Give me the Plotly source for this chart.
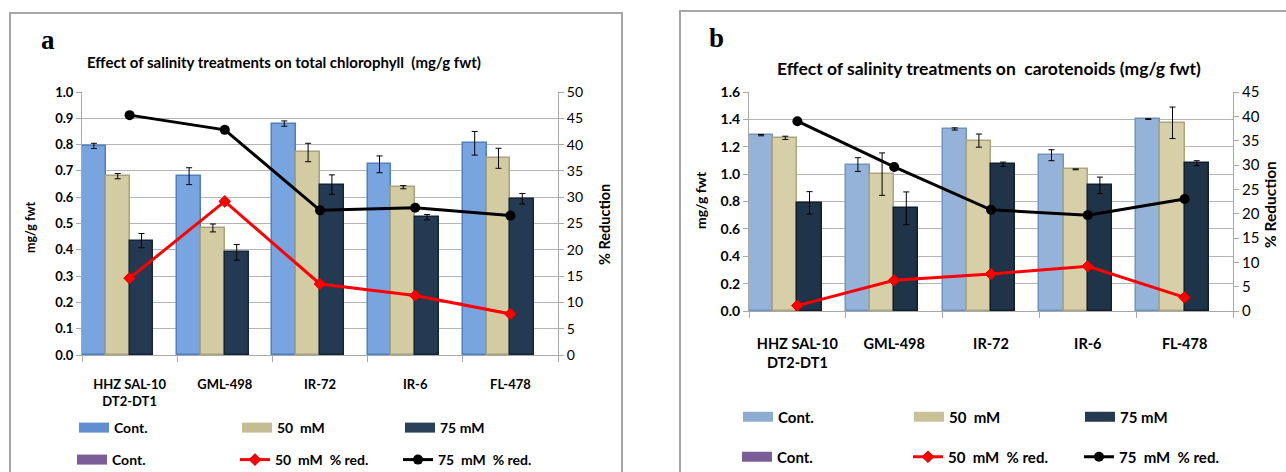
import plotly.graph_objects as go

W, H = 1286, 472

categories_a = ["HHZ SAL-10<br>DT2-DT1", "GML-498", "IR-72", "IR-6", "FL-478"]
categories_b = ["HHZ SAL-10<br>DT2-DT1", "GML-498", "IR-72", "IR-6", "FL-478"]

# Panel a: total chlorophyll (mg/g fwt)
chl_cont = [0.795, 0.680, 0.880, 0.725, 0.805]
chl_cont_err = [0.010, 0.032, 0.010, 0.032, 0.045]
chl_50 = [0.680, 0.483, 0.770, 0.638, 0.748]
chl_50_err = [0.010, 0.015, 0.035, 0.006, 0.038]
chl_75 = [0.435, 0.390, 0.648, 0.524, 0.594]
chl_75_err = [0.027, 0.030, 0.037, 0.010, 0.020]
chl_red50 = [14.6, 29.2, 13.5, 11.3, 7.8]
chl_red75 = [45.6, 42.8, 27.5, 28.0, 26.5]

# Panel b: carotenoids (mg/g fwt)
car_cont = [1.285, 1.070, 1.330, 1.138, 1.402]
car_cont_err = [0.005, 0.050, 0.008, 0.040, 0.003]
car_50 = [1.265, 1.000, 1.245, 1.035, 1.375]
car_50_err = [0.012, 0.155, 0.048, 0.003, 0.115]
car_75 = [0.790, 0.750, 1.072, 0.918, 1.080]
car_75_err = [0.082, 0.120, 0.016, 0.060, 0.018]
car_red50 = [1.1, 6.3, 7.6, 9.2, 2.8]
car_red75 = [39.0, 29.6, 20.8, 19.7, 23.0]

FONT = "Lato, Open Sans, Liberation Sans, sans-serif"


def px_x(p):
    return p / W


def px_y(p):
    return 1 - p / H


fig = go.Figure()


def swatch(name, color, xa, ya, lg):
    # legend-only entry drawn as a wide block, like the reference's legend keys
    fig.add_trace(go.Scatter(x=[None], y=[None], name=name, xaxis=xa, yaxis=ya,
                             mode="lines", line=dict(color=color, width=10),
                             legend=lg, hoverinfo="skip"))


def add_panel(cats, cont, cont_e, v50, v50_e, v75, v75_e, r50, r75,
              xa, ya, ya2, lg1, lg2, colors):
    c_cont, c_50, c_75 = colors
    err = dict(type="data", thickness=1, width=3, color="black")
    fig.add_trace(go.Bar(x=cats, y=cont, name="Cont.", xaxis=xa, yaxis=ya,
                         marker=dict(color=c_cont[0], line=dict(color=c_cont[1], width=1.5)),
                         error_y=dict(array=cont_e, **err), showlegend=False, offsetgroup="1"))
    fig.add_trace(go.Bar(x=cats, y=v50, name="50  mM", xaxis=xa, yaxis=ya,
                         marker=dict(color=c_50[0], line=dict(color=c_50[1], width=1.5)),
                         error_y=dict(array=v50_e, **err), showlegend=False, offsetgroup="2"))
    fig.add_trace(go.Bar(x=cats, y=v75, name="75 mM", xaxis=xa, yaxis=ya,
                         marker=dict(color=c_75[0], line=dict(color=c_75[1], width=1.5)),
                         error_y=dict(array=v75_e, **err), showlegend=False, offsetgroup="3"))
    fig.add_trace(go.Bar(x=cats, y=[None] * len(cats), name="Cont.", xaxis=xa, yaxis=ya,
                         marker=dict(color="#7b5e98"), showlegend=False, offsetgroup="4"))
    swatch("Cont.", c_cont[2], xa, ya, lg1)
    swatch("50  mM", c_50[2], xa, ya, lg1)
    swatch("75 mM", c_75[2], xa, ya, lg1)
    swatch("Cont.", "#7b5e98", xa, ya, lg2)
    fig.add_trace(go.Scatter(x=cats, y=r50, name="50  mM  % red.", xaxis=xa, yaxis=ya2,
                             mode="lines+markers",
                             line=dict(color="#ff0000", width=3),
                             marker=dict(symbol="diamond", size=9, color="#ff0000",
                                         line=dict(color="#d00000", width=1)),
                             legend=lg2))
    fig.add_trace(go.Scatter(x=cats, y=r75, name="75  mM  % red.", xaxis=xa, yaxis=ya2,
                             mode="lines+markers",
                             line=dict(color="#000000", width=3),
                             marker=dict(symbol="circle", size=10, color="#000000"),
                             legend=lg2))


add_panel(categories_a, chl_cont, chl_cont_err, chl_50, chl_50_err, chl_75, chl_75_err,
          chl_red50, chl_red75, "x", "y", "y2", "legend", "legend2",
          (("#78a5e0", "#4f7fc0", "#5f8fcf"), ("#d3cba2", "#aaa27a", "#c4bc92"),
           ("#233a52", "#162536", "#2a4159")))
add_panel(categories_b, car_cont, car_cont_err, car_50, car_50_err, car_75, car_75_err,
          car_red50, car_red75, "x2", "y3", "y4", "legend3", "legend4",
          (("#95b3d9", "#7093c0", "#8eacd2"), ("#d6cfa8", "#aca57e", "#c9c299"),
           ("#1f3349", "#121f2e", "#253a50")))

grid = "#b4b4b4"
axis_line = "#a8a8a8"


def xfmt(size, standoff):
    return dict(showgrid=False, showline=True, linecolor=axis_line, linewidth=1,
                ticks="outside", tickson="boundaries", ticklen=6, tickcolor=axis_line,
                tickfont=dict(family=FONT, size=size, color="black", weight="bold"),
                ticklabelstandoff=standoff, fixedrange=True)


def yfmt(size, bold):
    f = dict(family=FONT, size=size, color="black")
    if bold:
        f["weight"] = "bold"
    return dict(showline=True, linecolor=axis_line, ticks="outside", ticklen=5,
                tickcolor=axis_line, tickfont=f, zeroline=False, fixedrange=True)


fig.update_layout(
    width=W, height=H,
    margin=dict(l=0, r=0, t=0, b=0, autoexpand=False),
    paper_bgcolor="white", plot_bgcolor="white",
    barmode="group", bargap=0, bargroupgap=0,
    xaxis=dict(domain=[px_x(82), px_x(558)], anchor="y", **xfmt(13, 17)),
    yaxis=dict(domain=[px_y(355), px_y(92)], range=[0, 1.0], dtick=0.1, tickformat=".1f",
               showgrid=True, gridcolor=grid, gridwidth=1, anchor="x", **yfmt(13, True)),
    yaxis2=dict(overlaying="y", side="right", anchor="x", range=[0, 50], dtick=5,
                showgrid=False, **yfmt(14, False)),
    xaxis2=dict(domain=[px_x(749), px_x(1233)], anchor="y3", **xfmt(14.5, 20)),
    yaxis3=dict(domain=[px_y(311), px_y(92)], range=[0, 1.6], dtick=0.2, tickformat=".1f",
                showgrid=True, gridcolor=grid, gridwidth=1, anchor="x2", **yfmt(14, True)),
    yaxis4=dict(overlaying="y3", side="right", anchor="x2", range=[0, 45], dtick=5,
                showgrid=False, **yfmt(15, False)),
)

leg_common = dict(orientation="h", entrywidthmode="pixels",
                  bgcolor="rgba(0,0,0,0)", xanchor="left", yanchor="middle",
                  itemwidth=30, tracegroupgap=0, traceorder="normal")
leg_a = dict(entrywidth=118, font=dict(family=FONT, size=14, color="black", weight="bold"), **leg_common)
leg_b = dict(entrywidth=126, font=dict(family=FONT, size=15, color="black", weight="bold"), **leg_common)
fig.update_layout(
    legend=dict(x=px_x(74), y=px_y(428), **leg_a),
    legend2=dict(x=px_x(72), y=px_y(460), **leg_a),
    legend3=dict(x=px_x(738), y=px_y(417), **leg_b),
    legend4=dict(x=px_x(737), y=px_y(457), **leg_b),
)

# Panel frames
frame = dict(type="rect", xref="paper", yref="paper",
             line=dict(color="#a6a6a6", width=2), fillcolor="rgba(0,0,0,0)", layer="below")
fig.add_shape(x0=px_x(10), x1=px_x(622), y0=px_y(480), y1=px_y(13), **frame)
fig.add_shape(x0=px_x(680), x1=px_x(1295), y0=px_y(480), y1=px_y(11), **frame)

serif = "Liberation Serif, Times New Roman, serif"
ann = [
    dict(text="a", x=px_x(48), y=px_y(40), font=dict(family=serif, size=27, color="black", weight="bold")),
    dict(text="b", x=px_x(716), y=px_y(38), font=dict(family=serif, size=27, color="black", weight="bold")),
    dict(text="Effect of salinity treatments on total chlorophyll  (mg/g fwt)",
         x=px_x(284), y=px_y(62), font=dict(family=FONT, size=15, color="black", weight="bold")),
    dict(text="Effect of salinity treatments on  carotenoids (mg/g fwt)",
         x=px_x(989), y=px_y(68), font=dict(family=FONT, size=17.5, color="black", weight="bold")),
    dict(text="mg/g fwt", x=px_x(30), y=px_y(228), textangle=-90,
         font=dict(family=FONT, size=12.5, color="black", weight="bold")),
    dict(text="% Reduction", x=px_x(605), y=px_y(225), textangle=-90,
         font=dict(family=FONT, size=14.5, color="black", weight="bold")),
    dict(text="mg/g fwt", x=px_x(700), y=px_y(200), textangle=-90,
         font=dict(family=FONT, size=14, color="black", weight="bold")),
    dict(text="% Reduction", x=px_x(1270), y=px_y(205), textangle=-90,
         font=dict(family=FONT, size=15.5, color="black", weight="bold")),
]
for a in ann:
    fig.add_annotation(xref="paper", yref="paper", showarrow=False,
                       xanchor="center", yanchor="middle", **a)

fig.write_html("out.html", config={"displayModeBar": False},
               post_script="document.body.style.margin='0px';")
